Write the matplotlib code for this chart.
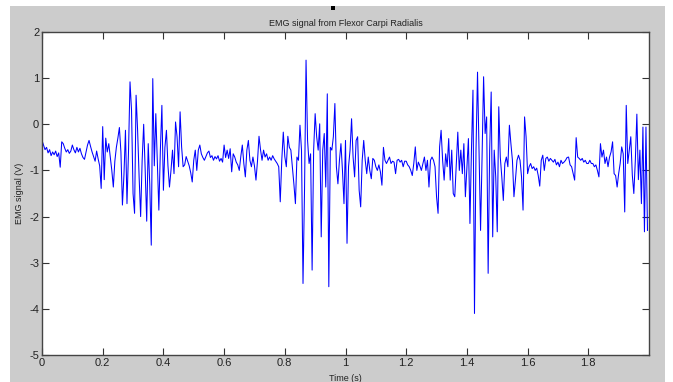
import numpy as np
import matplotlib
matplotlib.use("Agg")
import matplotlib.pyplot as plt
from matplotlib.patches import Rectangle

plt.rcParams['font.family'] = ['Liberation Sans', 'DejaVu Sans']
plt.rcParams['axes.unicode_minus'] = False

# EMG samples, one every 5 ms (20 per row = 0.1 s)
fs = 200.0
emg = [
    -0.35, -0.45, -0.55, -0.50, -0.62, -0.55, -0.68, -0.60, -0.66, -0.58, -0.70, -0.62, -0.93, -0.38, -0.42, -0.52, -0.60, -0.55, -0.63, -0.58,
    -0.45, -0.55, -0.62, -0.50, -0.60, -0.52, -0.64, -0.72, -0.76, -0.60, -0.45, -0.35, -0.48, -0.60, -0.70, -0.80, -0.58, -0.75, -0.90, -1.39,
    -0.05, -1.20, -0.30, -0.60, -0.42, -0.70, -1.00, -1.36, -0.80, -0.50, -0.30, -0.07, -0.60, -1.75, -1.10, -0.13, -1.72, -0.60, 0.92, 0.30,
    -1.50, -1.93, 0.63, -0.13, -1.14, -2.00, -0.78, 0.00, -1.00, -2.10, -0.42, -1.30, -2.62, 0.99, -0.90, 0.23, -0.80, -1.86, -0.56, 0.41,
    -1.43, -0.50, -0.13, -0.90, -1.36, -1.00, -0.56, -1.07, 0.05, -0.27, -0.92, 0.27, -0.49, -0.92, -0.88, -0.70, -0.80, -0.90, -1.05, -1.25,
    -0.78, -0.56, -1.00, -0.56, -0.45, -0.64, -0.72, -0.78, -0.70, -0.62, -0.58, -0.72, -0.68, -0.78, -0.70, -0.75, -0.68, -0.80, -0.74, -0.82,
    -0.45, -0.72, -0.56, -0.74, -0.53, -1.03, -0.64, -0.71, -0.82, -0.88, -1.00, -0.70, -0.45, -0.85, -1.14, -0.56, -0.35, -0.78, -0.92, -0.71,
    -0.90, -1.21, -0.80, -0.26, -0.55, -0.78, -0.56, -0.71, -0.64, -0.78, -0.71, -0.78, -0.68, -0.75, -0.80, -0.85, -0.92, -1.68, -0.78, -0.17,
    -0.70, -0.92, -0.26, -0.50, -0.56, -0.92, -1.30, -1.72, -0.71, -0.78, -0.02, -0.56, -3.45, -1.43, 1.39, -0.35, -0.85, -0.64, -3.16, -0.56,
    0.23, -0.27, -0.56, 0.01, -2.44, -0.56, -0.20, -1.36, 0.66, -3.52, -0.50, -0.56, -0.27, 0.45, -0.92, -1.29, -0.78, -0.42, -1.00, -1.72,
    -0.35, -2.58, -0.92, -0.56, 0.12, -0.71, -1.14, -0.35, -0.27, -1.43, -1.79, -0.78, -0.35, -0.78, -1.07, -0.71, -1.00, -1.18, -0.74, -0.78,
    -0.92, -1.00, -0.88, -1.03, -1.32, -0.50, -0.78, -0.85, -0.78, -0.71, -0.85, -0.80, -0.82, -1.07, -0.78, -0.76, -0.82, -0.78, -0.92, -0.80,
    -0.80, -0.88, -0.92, -1.00, -1.11, -0.85, -0.49, -1.00, -0.82, -0.90, -1.00, -0.85, -0.71, -1.00, -0.78, -1.36, -0.78, -0.71, -0.78, -0.92,
    -1.57, -1.93, -0.49, -0.13, -0.78, -1.21, -0.64, -0.92, -0.31, -1.21, -0.56, -1.50, -1.57, -0.85, -0.17, -1.00, -0.56, -1.07, -0.42, -1.57,
    -0.92, -0.31, -2.15, -0.56, 0.74, -4.10, -0.56, 1.13, -0.56, -2.30, -0.71, 1.03, -0.20, 0.16, -3.23, -0.56, 0.70, -2.44, -0.56, -1.14,
    -2.33, 0.38, -0.71, -1.14, -1.65, -0.85, -0.71, -0.92, -0.02, -0.42, -0.78, -1.57, -1.20, -0.78, -0.67, -0.78, -1.14, -1.86, 0.16, -0.27,
    -1.07, -0.92, -0.85, -0.96, -0.92, -1.00, -0.95, -1.11, -1.34, -0.78, -0.67, -1.00, -0.74, -0.71, -0.80, -0.74, -0.78, -0.82, -0.76, -0.88,
    -0.82, -0.92, -0.78, -0.85, -0.82, -0.78, -0.72, -0.71, -0.88, -0.92, -1.07, -1.21, -0.29, -0.71, -0.74, -0.78, -0.74, -0.82, -0.78, -0.85,
    -0.85, -0.78, -0.85, -0.85, -0.92, -0.88, -1.00, -1.14, -0.42, -0.71, -0.56, -0.85, -0.71, -0.92, -0.71, -0.60, -0.38, -1.07, -1.11, -1.36,
    -1.07, -0.85, -0.49, -0.64, -1.90, 0.41, -0.85, -0.56, -0.27, -1.10, -1.50, -0.78, 0.22, -1.20, -0.56, -1.72, -0.06, -2.33, -0.06, -2.30,
]
t = np.arange(len(emg)) / fs

xticks = [0, 0.2, 0.4, 0.6, 0.8, 1, 1.2, 1.4, 1.6, 1.8]
xticklabels = ['0', '0.2', '0.4', '0.6', '0.8', '1', '1.2', '1.4', '1.6', '1.8']
yticks = [-5, -4, -3, -2, -1, 0, 1, 2]

W, H = 673, 382
fig = plt.figure(figsize=(W / 100, H / 100), dpi=100)
fig.patch.set_facecolor('white')
# grey matlab figure area (white strip on the left / top / right edges)
fig.patches.append(Rectangle((10 / W, 0), 655 / W, (H - 6) / H, transform=fig.transFigure,
                             facecolor='#cccccc', edgecolor='none', zorder=-10))
fig.patches.append(Rectangle((331 / W, (H - 10) / H), 4 / W, 4 / H, transform=fig.transFigure,
                             facecolor='black', edgecolor='none', zorder=5))

ax = fig.add_axes([42 / W, 1 - 355 / H, 607 / W, 323 / H])
ax.set_facecolor('white')
ax.plot(t, emg, color='#0000ff', lw=0.75)

ax.set_xlim(0, 2)
ax.set_ylim(-5, 2)
ax.set_xticks(xticks)
ax.set_xticklabels(xticklabels)
ax.set_yticks(yticks)
ax.tick_params(direction='in', length=5, width=0.8, colors='#333333', labelcolor='#222222',
               labelsize=8, top=True, right=True, pad=2)
for s in ax.spines.values():
    s.set_color('#444444')
    s.set_linewidth(1.0)

ax.set_title('EMG signal from Flexor Carpi Radialis', fontsize=6.5, color='#222222', pad=4)
ax.set_ylabel('EMG signal (V)', fontsize=6.5, color='#222222', labelpad=4)
fig.text(0.5 * (42 + 649) / W, 8 / H, 'Time (s)', fontsize=6.5, color='#222222',
         ha='center', va='top')

fig.savefig('out.png', dpi=100, facecolor=fig.get_facecolor())
